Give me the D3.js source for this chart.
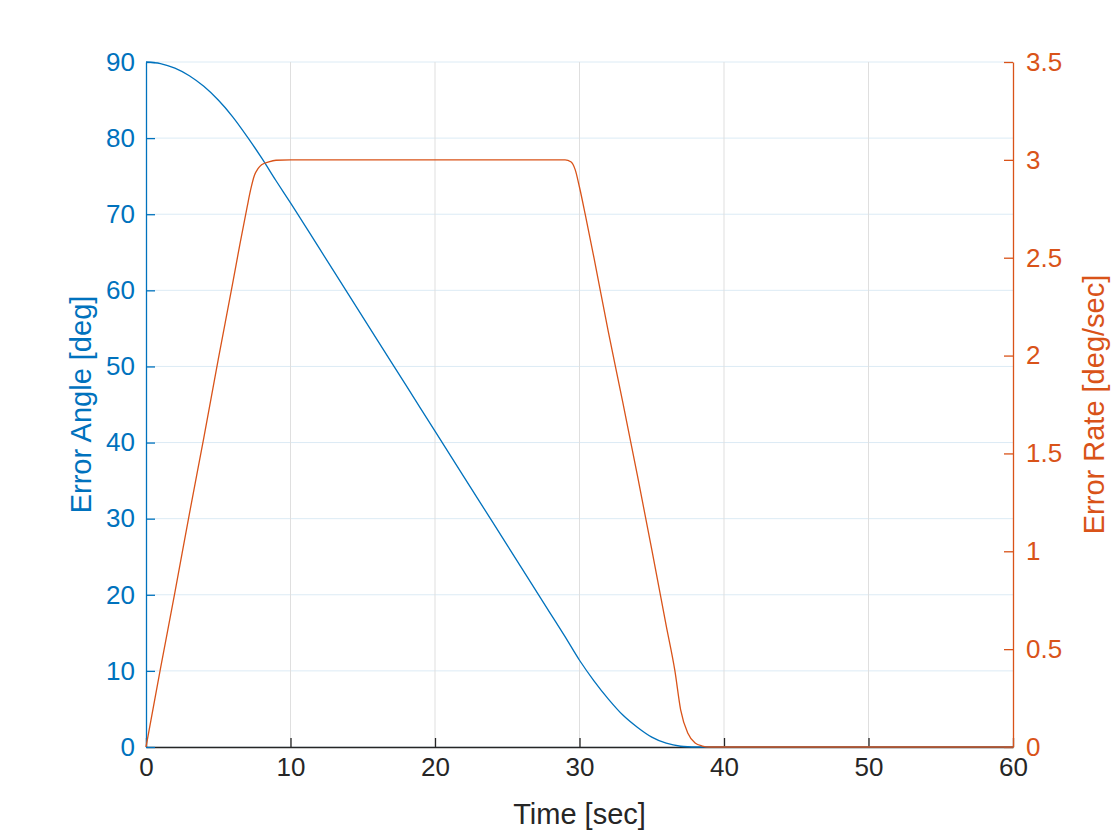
<!DOCTYPE html>
<html>
<head>
<meta charset="utf-8">
<script src="https://cdn.jsdelivr.net/npm/d3@7"></script>
<style>
  body { margin: 0; background: #fff; }
  svg { display: block; font-family: "Liberation Sans", Arial, sans-serif; }
</style>
</head>
<body>
<svg></svg>
<script>

// error angle [deg]
const angleTime = [0, 1, 2, 3, 4, 5, 6, 7, 8, 9, 10, 12, 14, 16, 18, 20, 22, 24, 26, 28, 29, 30, 31, 32, 33, 34, 35, 36, 37, 37.5, 38, 39, 60]
const angleValues = [90, 89.8, 89.2, 88.2, 86.8, 85.0, 82.8, 80.2, 77.4, 74.4, 71.5, 65.5, 59.5, 53.5, 47.5, 41.5, 35.5, 29.5, 23.5, 17.5, 14.5, 11.4, 8.7, 6.3, 4.2, 2.6, 1.3, 0.5, 0.1, 0.03, 0, 0, 0]

// error rate [deg/sec]
const rateTime = [0, 1, 2, 3, 4, 5, 6, 6.5, 7, 7.25, 7.5, 7.75, 8, 8.5, 9, 10, 20, 29, 29.4, 29.7, 30, 30.4, 31, 32, 33, 34, 35, 36, 36.6, 37, 37.5, 38, 38.5, 39, 40, 60]
const rateValues = [0, 0.40, 0.79, 1.19, 1.58, 1.98, 2.37, 2.57, 2.76, 2.85, 2.92, 2.955, 2.975, 2.99, 2.998, 3.0, 3.0, 3.0, 2.99, 2.95, 2.86, 2.72, 2.50, 2.12, 1.76, 1.39, 1.01, 0.62, 0.39, 0.19, 0.07, 0.02, 0.005, 0, 0, 0]

const xTicks = [0, 10, 20, 30, 40, 50, 60]
const leftTicks = [0, 10, 20, 30, 40, 50, 60, 70, 80, 90]
const rightTicks = [0, 0.5, 1, 1.5, 2, 2.5, 3, 3.5]

const blue = "#0072BD"
const orange = "#D95319"
const dark = "#262626"

const plotLeft = 146, plotRight = 1013, plotTop = 62, plotBottom = 747

const svg = d3.select("svg")
    .attr("width", 1120)
    .attr("height", 840)

const x = d3.scaleLinear().domain([0, 60]).range([plotLeft, plotRight])
const yLeft = d3.scaleLinear().domain([0, 90]).range([plotBottom, plotTop])
const yRight = d3.scaleLinear().domain([0, 3.5]).range([plotBottom, plotTop])

// grid
svg.append("g")
    .selectAll("line")
    .data(leftTicks)
    .join("line")
    .attr("x1", plotLeft).attr("x2", plotRight)
    .attr("y1", d => yLeft(d)).attr("y2", d => yLeft(d))
    .attr("stroke", "#dcebf5")
    .attr("stroke-width", 1)

svg.append("g")
    .selectAll("line")
    .data(xTicks.slice(1, -1))
    .join("line")
    .attr("x1", d => x(d)).attr("x2", d => x(d))
    .attr("y1", plotTop).attr("y2", plotBottom)
    .attr("stroke", "#dfdfdf")
    .attr("stroke-width", 1)

// axes
const styleAxis = function (g, color) {
    g.selectAll("path").attr("stroke", color).attr("stroke-width", 1.3)
    g.selectAll("line").attr("stroke", color).attr("stroke-width", 1.3)
    g.selectAll("text")
        .attr("fill", color)
        .style("font-size", "26px")
        .style("font-family", "'Liberation Sans', Arial, sans-serif")
}

const xAxis = svg.append("g")
    .attr("transform", `translate(0, ${plotBottom})`)
    .call(d3.axisBottom(x).tickValues(xTicks).tickSize(-9).tickSizeOuter(0).tickPadding(11).tickFormat(d3.format("~g")))
styleAxis(xAxis, dark)

const leftAxis = svg.append("g")
    .attr("transform", `translate(${plotLeft}, 0)`)
    .call(d3.axisLeft(yLeft).tickValues(leftTicks).tickSize(-9).tickSizeOuter(0).tickPadding(11).tickFormat(d3.format("~g")))
styleAxis(leftAxis, blue)

const rightAxis = svg.append("g")
    .attr("transform", `translate(${plotRight}, 0)`)
    .call(d3.axisRight(yRight).tickValues(rightTicks).tickSize(-9).tickSizeOuter(0).tickPadding(13).tickFormat(d3.format("~g")))
styleAxis(rightAxis, orange)

// lines
const angleLine = d3.line()
    .x((d, i) => x(angleTime[i]))
    .y(d => yLeft(d))
    .curve(d3.curveMonotoneX)

const rateLine = d3.line()
    .x((d, i) => x(rateTime[i]))
    .y(d => yRight(d))
    .curve(d3.curveMonotoneX)

svg.append("path")
    .attr("d", angleLine(angleValues))
    .attr("fill", "none")
    .attr("stroke", blue)
    .attr("stroke-width", 1.3)

svg.append("path")
    .attr("d", rateLine(rateValues))
    .attr("fill", "none")
    .attr("stroke", orange)
    .attr("stroke-width", 1.3)

// axis titles
svg.append("text")
    .attr("x", (plotLeft + plotRight) / 2)
    .attr("y", 824)
    .attr("text-anchor", "middle")
    .attr("fill", dark)
    .style("font-size", "29px")
    .text("Time [sec]")

svg.append("text")
    .attr("transform", `translate(91, ${(plotTop + plotBottom) / 2}) rotate(-90)`)
    .attr("text-anchor", "middle")
    .attr("fill", blue)
    .style("font-size", "29px")
    .text("Error Angle [deg]")

svg.append("text")
    .attr("transform", `translate(1104, ${(plotTop + plotBottom) / 2}) rotate(-90)`)
    .attr("text-anchor", "middle")
    .attr("fill", orange)
    .style("font-size", "29px")
    .text("Error Rate [deg/sec]")

</script>
</body>
</html>
